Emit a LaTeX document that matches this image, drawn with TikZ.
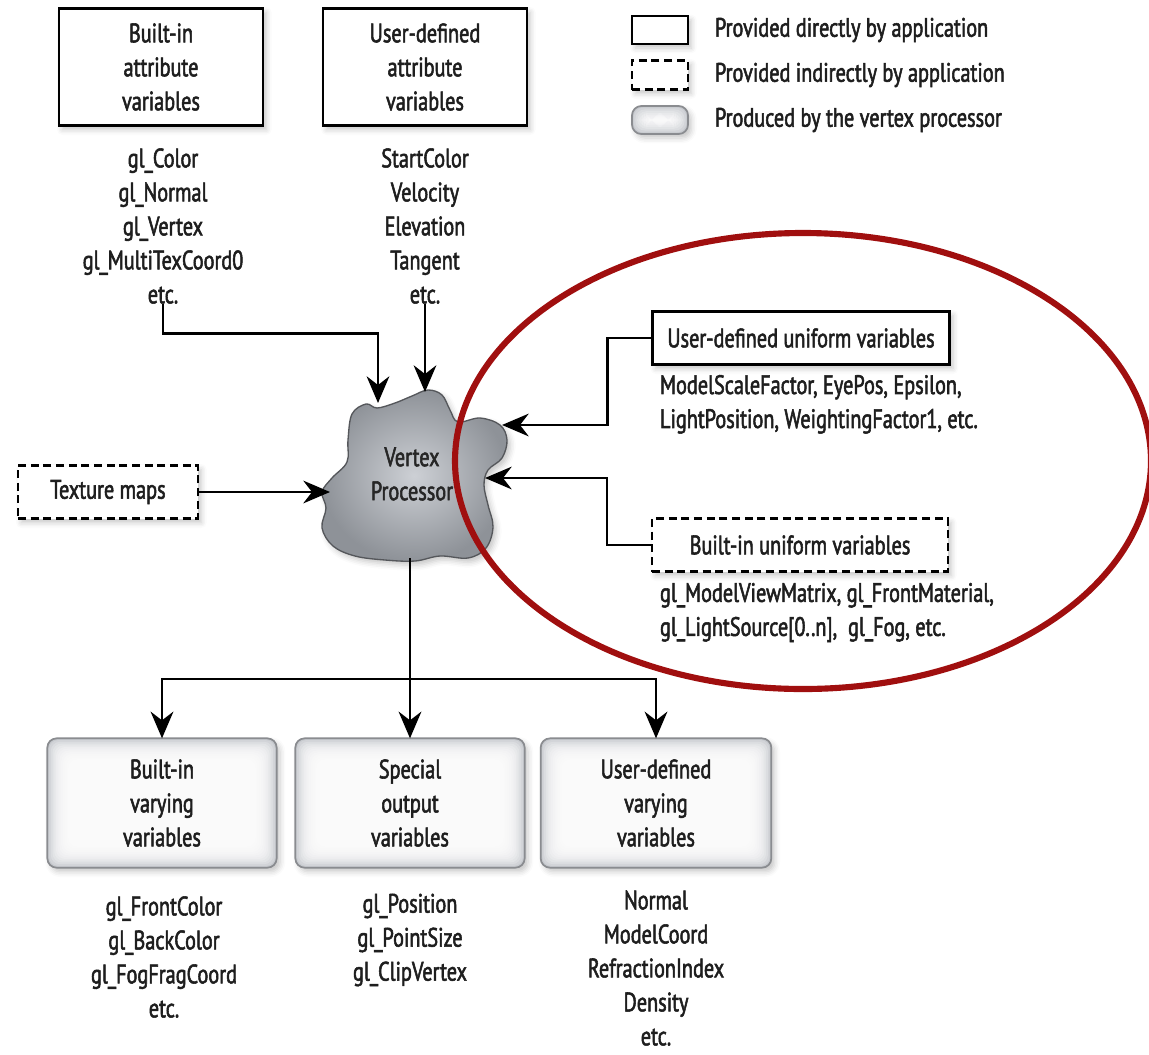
\documentclass[tikz,border=0pt]{standalone}
\usepackage{fontspec}
\setmainfont{PT Sans}[FakeStretch=0.76, FakeBold=2]
\usetikzlibrary{arrows.meta,shadows.blur,calc}

\definecolor{ink}{HTML}{1E1E1E}
\definecolor{ringred}{HTML}{A00F0F}
\definecolor{glowedge}{HTML}{C6C9CE}
\definecolor{glowline}{HTML}{8A8C90}
\definecolor{cloudin}{HTML}{CDD0D5}
\definecolor{cloudout}{HTML}{8E9298}
\definecolor{cloudline}{HTML}{55575B}

\begin{document}
\begin{tikzpicture}[x=0.75pt,y=-0.75pt,
  font=\fontsize{20}{25.5}\selectfont,
  every node/.style={inner sep=0pt, outer sep=0pt, text=ink},
  softshadow/.style={blur shadow={shadow xshift=2.5pt,shadow yshift=-3pt,
      shadow blur radius=4pt,shadow opacity=22}},
  appbox/.style={draw=black, line width=2.2pt, fill=white, softshadow, align=center},
  indbox/.style={appbox, dash pattern=on 6pt off 3.5pt},
  outbox/.style={draw=glowline, line width=1.3pt, rounded corners=7pt,
      fill=glowedge, softshadow, align=center,
      path picture={\foreach \k in {1,...,12}{
        \fill[white,opacity=0.22,rounded corners=7pt]
          ([shift={(\k*1.3pt,-\k*1.3pt)}]path picture bounding box.north west)
          rectangle ([shift={(-\k*1.3pt,\k*1.3pt)}]path picture bounding box.south east);}}},
  list/.style={align=center},
  listl/.style={align=left, anchor=north west},
  wire/.style={draw=black, line width=2pt},
  arr/.style={wire, -{Stealth[length=20pt,width=17pt,inset=6.5pt]}}
]
\useasboundingbox (0,0) rectangle (1149,1054);

% ---------- legend ----------
\node[appbox, minimum width=42pt, minimum height=21pt] (lgA) at (660,30) {};
\node[indbox, minimum width=42pt, minimum height=22pt] (lgB) at (660,75) {};
\node[outbox, minimum width=42pt, minimum height=21pt] (lgC) at (660,120) {};
\node[anchor=west] (lgAt) at (715,30) {Provided directly by application};
\node[anchor=west] (lgBt) at (715,75) {Provided indirectly by application};
\node[anchor=west] (lgCt) at (715,120) {Produced by the vertex processor};

% ---------- attribute inputs ----------
\node[appbox, minimum width=153pt, minimum height=88pt] (ba) at (161,67)
  {Built-in\\attribute\\variables};
\node[appbox, minimum width=153pt, minimum height=88pt] (ua) at (425,67)
  {User-defined\\attribute\\variables};
\node[list] (bal) at (163,226)
  {gl\_Color\\gl\_Normal\\gl\_Vertex\\gl\_MultiTexCoord0\\etc.};
\node[list] (ual) at (425,226)
  {StartColor\\Velocity\\Elevation\\Tangent\\etc.};

% ---------- texture maps ----------
\node[indbox, minimum width=135pt, minimum height=40pt] (tex) at (108,492) {Texture maps};

% ---------- vertex processor ----------
\path[softshadow, draw=cloudline, line width=1pt, inner color=cloudin, outer color=cloudout]
  plot[smooth cycle, tension=0.6] coordinates {
   (352,414) (366,404) (377,408) (395,403) (412,396) (428,390) (442,395)
   (450,410) (458,422) (480,418) (500,425) (507,440) (502,458) (488,470)
   (484,485) (488,505) (493,527) (486,548) (468,558) (440,556) (415,561)
   (385,560) (355,556) (333,546) (322,528) (326,508) (322,492) (332,478)
   (347,462) (348,440)};
\node[align=center, text=black!85] (vp) at (412,474) {Vertex\\Processor};
\coordinate (inA) at (378,403);
\coordinate (inB) at (425,392);
\coordinate (inC) at (330,492);
\coordinate (inD) at (502,425);
\coordinate (inE) at (485,478);
\coordinate (outV) at (410,558);

% ---------- uniform inputs ----------
\node[appbox, minimum width=223pt, minimum height=40pt] (uu) at (801,338)
  {User-defined uniform variables};
\node[listl] (uul) at (660,375)
  {ModelScaleFactor, EyePos, Epsilon,\\LightPosition, WeightingFactor1, etc.};
\node[indbox, minimum width=222pt, minimum height=40pt] (bu) at (800,545)
  {Built-in uniform variables};
\node[listl] (bul) at (660,583)
  {gl\_ModelViewMatrix, gl\_FrontMaterial,\\gl\_LightSource[0..n],\ \ gl\_Fog, etc.};

% ---------- outputs ----------
\node[outbox, minimum width=172pt, minimum height=97pt] (bv) at (162,803)
  {Built-in\\varying\\variables};
\node[outbox, minimum width=172pt, minimum height=97pt] (sv) at (410,803)
  {Special\\output\\variables};
\node[outbox, minimum width=173pt, minimum height=97pt] (uv) at (656,803)
  {User-defined\\varying\\variables};
\node[list] (bvl) at (164,957)
  {gl\_FrontColor\\gl\_BackColor\\gl\_FogFragCoord\\etc.};
\node[list] (svl) at (410,940)
  {gl\_Position\\gl\_PointSize\\gl\_ClipVertex};
\node[list] (uvl) at (656,968)
  {Normal\\ModelCoord\\RefractionIndex\\Density\\etc.};

% ---------- connectors ----------
\draw[arr] (bal.south) -- ++(0,30) -| (inA);
\draw[arr] (ual.south) -- (inB);
\draw[arr] (tex.east) -- (inC);
\draw[arr] (uu.west) -- ++(-45,0) |- (inD);
\draw[arr] (bu.west) -- ++(-45,0) |- (inE);
\coordinate (split) at (410,679);
\draw[wire] (outV) -- (split);
\draw[arr] (split) -| (bv.north);
\draw[arr] (split) -- (sv.north);
\draw[arr] (split) -| (uv.north);

% ---------- highlight ring ----------
\draw[ringred, line width=4.6pt] (803,461) ellipse [x radius=348, y radius=228];
\end{tikzpicture}
\end{document}
